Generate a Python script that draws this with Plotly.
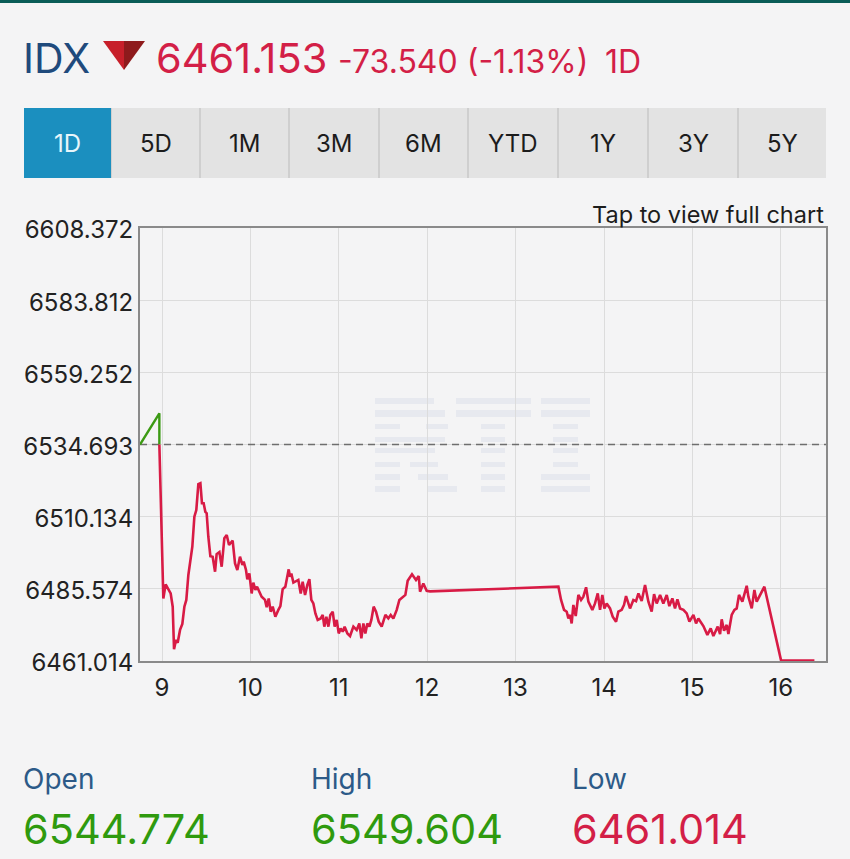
import plotly.graph_objects as go

FONT = "Inter"
BG = "#f4f4f5"

# ---- data ----
green_hours = [8.751, 8.970, 8.970]
green_prices = [6534.693, 6545.3, 6534.693]

red_hours = [8.970, 9.015, 9.041, 9.064, 9.098, 9.121, 9.136, 9.158, 9.177, 9.204, 9.230, 9.253, 9.275, 9.298, 9.321,
    9.343, 9.366, 9.388, 9.411, 9.434, 9.452, 9.471, 9.490, 9.505, 9.524, 9.547, 9.573, 9.600, 9.618, 9.649,
    9.675, 9.705, 9.732, 9.758, 9.799, 9.826, 9.852, 9.882, 9.909, 9.924, 9.950, 9.965, 9.988, 10.014, 10.033,
    10.056, 10.075, 10.127, 10.165, 10.184, 10.207, 10.229, 10.252, 10.282, 10.316, 10.339, 10.365, 10.395, 10.433, 10.448,
    10.463, 10.486, 10.542, 10.569, 10.591, 10.618, 10.644, 10.667, 10.689, 10.712, 10.735, 10.761, 10.795, 10.818, 10.836,
    10.859, 10.882, 10.904, 10.931, 10.953, 10.976, 10.999, 11.021, 11.044, 11.066, 11.097, 11.127, 11.165, 11.202, 11.232,
    11.255, 11.278, 11.300, 11.323, 11.346, 11.368, 11.394, 11.421, 11.451, 11.485, 11.527, 11.560, 11.587, 11.617, 11.655,
    11.685, 11.753, 11.779, 11.828, 11.873, 11.904, 11.919, 11.956, 11.994, 12.032,
    13.484, 13.514, 13.548, 13.578, 13.597, 13.616, 13.634, 13.653, 13.680, 13.710, 13.740, 13.766, 13.797, 13.823, 13.868,
    13.898, 13.929, 13.955, 13.981, 14.004, 14.030, 14.068, 14.098, 14.136, 14.162, 14.200, 14.226, 14.249, 14.294, 14.332,
    14.362, 14.389, 14.426, 14.464, 14.502, 14.539, 14.566, 14.596, 14.634, 14.671, 14.709, 14.739, 14.773, 14.803, 14.830,
    14.860, 14.898, 14.935, 14.966, 15.011, 15.041, 15.067, 15.124, 15.169, 15.207, 15.237, 15.286, 15.313, 15.331, 15.358,
    15.388, 15.407, 15.444, 15.475, 15.501, 15.527, 15.565, 15.614, 15.633, 15.671, 15.701, 15.727, 15.814, 16.003, 16.380]

red_prices = [6534.693, 6482.3, 6487.1, 6485.7, 6484.0, 6479.5, 6465.0, 6468.2, 6467.2, 6471.6, 6473.6, 6479.5, 6481.8, 6490.3, 6495.4,
    6499.9, 6510.1, 6512.4, 6521.2, 6521.5, 6514.7, 6514.7, 6511.8, 6511.3, 6503.3, 6496.7, 6496.5, 6491.4, 6497.4, 6498.1,
    6493.1, 6502.8, 6503.9, 6500.5, 6502.0, 6494.2, 6492.0, 6496.5, 6493.7, 6494.8, 6492.0, 6488.8, 6490.8, 6484.0, 6487.7,
    6485.2, 6486.3, 6482.9, 6481.8, 6479.3, 6482.3, 6477.8, 6479.5, 6476.1, 6478.4, 6479.7, 6485.5, 6486.3, 6492.2, 6489.7,
    6490.8, 6487.7, 6488.6, 6484.0, 6488.0, 6483.5, 6486.9, 6488.9, 6481.8, 6480.6, 6477.2, 6475.0, 6475.5, 6476.7, 6472.7,
    6476.1, 6472.7, 6476.7, 6477.8, 6472.7, 6475.0, 6470.4, 6472.1, 6471.0, 6472.7, 6470.4, 6469.5, 6472.7, 6471.6, 6473.8,
    6468.7, 6473.8, 6470.4, 6473.8, 6472.7, 6475.0, 6479.5, 6477.8, 6474.4, 6472.7, 6476.7, 6475.5, 6476.7, 6475.5, 6478.4,
    6481.8, 6483.5, 6488.3, 6490.5, 6488.6, 6489.9, 6484.6, 6487.4, 6484.9, 6484.7,
    6486.3, 6481.8, 6478.4, 6477.8, 6475.5, 6476.7, 6473.8, 6480.1, 6476.3, 6483.5, 6481.8, 6482.9, 6486.1, 6481.2, 6478.4,
    6480.6, 6484.0, 6478.4, 6483.5, 6478.9, 6480.6, 6478.9, 6476.1, 6474.4, 6477.8, 6478.4, 6480.1, 6483.1, 6478.9, 6481.8,
    6481.4, 6484.0, 6481.4, 6486.9, 6481.2, 6477.8, 6483.8, 6480.6, 6483.5, 6480.6, 6483.5, 6479.7, 6482.3, 6478.9, 6482.0,
    6478.9, 6478.4, 6477.2, 6474.4, 6476.7, 6473.8, 6475.5, 6472.9, 6469.9, 6472.1, 6469.5, 6472.7, 6470.2, 6475.2, 6471.3,
    6473.3, 6470.2, 6476.7, 6478.4, 6478.9, 6483.5, 6481.2, 6486.6, 6482.9, 6478.9, 6485.2, 6481.2, 6486.3, 6461.153, 6461.153]

prev_close = 6534.693
y_ticks = [6608.372, 6583.812, 6559.252, 6534.693, 6510.134, 6485.574, 6461.014]
y_tick_labels = ["6608.372", "6583.812", "6559.252", "6534.693", "6510.134", "6485.574", "6461.014"]
x_ticks = [9, 10, 11, 12, 13, 14, 15, 16]
x_tick_labels = ["9", "10", "11", "12", "13", "14", "15", "16"]
buttons = ["1D", "5D", "1M", "3M", "6M", "YTD", "1Y", "3Y", "5Y"]

# ---- layout helpers: page pixels to paper coordinates ----
L, R, T, B = 140, 826, 228, 661
def px(x): return (x - L) / (R - L)
def py(y): return (B - y) / (B - T)

shapes, annotations = [], []

def rect(x0, y0, x1, y1, color, layer="below"):
    shapes.append(dict(type="rect", xref="paper", yref="paper", x0=px(x0), x1=px(x1), y0=py(y0), y1=py(y1),
                       fillcolor=color, line_width=0, layer=layer))

def text(x, y, s, size, color, anchor="left"):
    shift = {"left": -2, "center": 0, "right": 2}[anchor]
    annotations.append(dict(xref="paper", yref="paper", x=px(x + shift), y=py(y), text=s, showarrow=False,
                            xanchor=anchor, yanchor="middle", borderpad=0,
                            font=dict(family=FONT, size=size, color=color)))

def tri(points, color):
    d = "M " + " L ".join(f"{px(a)} {py(b)}" for a, b in points) + " Z"
    shapes.append(dict(type="path", xref="paper", yref="paper", path=d, fillcolor=color, line_width=0))

# top bar
rect(0, 0, 850, 3, "#0a5c57")

# header
NAVY, RED, GREEN = "#1f4a7c", "#d31f47", "#2f9a0e"
text(24, 58, "IDX", 41, NAVY)
tri([(103, 41), (124, 41), (124, 70)], "#c71f2a")
tri([(124, 41), (145, 41), (124, 70)], "#8e1a1c")
text(157, 58, "6461.153", 41.5, RED)
text(339, 61, "-73.540 (-1.13%)", 32, RED)
text(606, 61, "1D", 32, RED)

# period buttons
edges = [24, 111, 200, 289, 379, 468, 558, 648, 738, 826]
for i, label in enumerate(buttons):
    rect(edges[i], 108, edges[i + 1], 178, "#1b8fbf" if i == 0 else "#e3e3e3")
    if i > 0 and i < len(buttons):
        rect(edges[i] - 1 if i > 1 else edges[i], 108, edges[i] + 1, 178, "#cfcfcf")
    text((edges[i] + edges[i + 1]) / 2, 143, label, 24, "#e8f6fb" if i == 0 else "#1c1c1c", "center")

text(823, 214, "Tap to view full chart", 23.5, "#1c1c1c", "right")

# faint RTI watermark: stripes of letter segments
WM = "#e7e9ef"
stripes = [(398, 404), (410, 417), (424, 429), (437, 442), (448, 453), (462, 467), (474, 480), (486, 492)]
segments = [
    [(375, 434), (456, 531), (541, 590)],
    [(375, 445), (456, 531), (541, 590)],
    [(375, 400), (426, 448), (481, 505), (553, 578)],
    [(375, 445), (481, 505), (553, 578)],
    [(375, 435), (481, 505), (553, 578)],
    [(375, 400), (410, 438), (481, 505), (553, 578)],
    [(375, 400), (418, 448), (481, 505), (541, 590)],
    [(375, 400), (428, 457), (481, 505), (541, 590)],
]
for (y0, y1), segs in zip(stripes, segments):
    for x0, x1 in segs:
        rect(x0, y0, x1, y1, WM)

# bottom stats
for x, name, value, color in [(24, "Open", "6544.774", GREEN), (312, "High", "6549.604", GREEN), (573, "Low", "6461.014", RED)]:
    text(x, 779, name, 28, "#2c5a88")
    text(x, 829, value, 41.5, color)

fig = go.Figure()
fig.add_trace(go.Scatter(x=[8.751, 16.511], y=[prev_close, prev_close], mode="lines",
                         line=dict(color="#6e6e6e", width=1.5, dash="7px,5px"), hoverinfo="skip"))
fig.add_trace(go.Scatter(x=green_hours, y=green_prices, mode="lines", line=dict(color="#3c9a14", width=2.4), hoverinfo="skip"))
fig.add_trace(go.Scatter(x=red_hours, y=red_prices, mode="lines", line=dict(color="#d81b45", width=2.6), hoverinfo="skip"))

axis_font = dict(family=FONT, size=24, color="#222222")
fig.update_layout(
    width=850, height=859, autosize=False, showlegend=False,
    margin=dict(l=L, r=850 - R, t=T, b=859 - B, pad=0),
    paper_bgcolor=BG, plot_bgcolor=BG,
    shapes=shapes, annotations=annotations,
    xaxis=dict(range=[8.751, 16.511], tickmode="array", tickvals=x_ticks, ticktext=x_tick_labels, tickfont=axis_font,
               showgrid=True, gridcolor="#dcdcdc", gridwidth=1, zeroline=False, showline=True, linecolor="#8a8a8a",
               linewidth=2, mirror=True, ticks="outside", ticklen=4, tickcolor=BG),
    yaxis=dict(range=[6461.014, 6608.372], tickmode="array", tickvals=y_ticks, ticktext=y_tick_labels, tickfont=axis_font,
               showgrid=True, gridcolor="#dcdcdc", gridwidth=1, zeroline=False, showline=True, linecolor="#8a8a8a",
               linewidth=2, mirror=True, ticks="", ticklabelshift=2, tickcolor=BG),
)

fig.write_html("out.html", config=dict(displayModeBar=False),
               post_script="document.body.style.margin='0';document.body.style.background='%s';" % BG)
